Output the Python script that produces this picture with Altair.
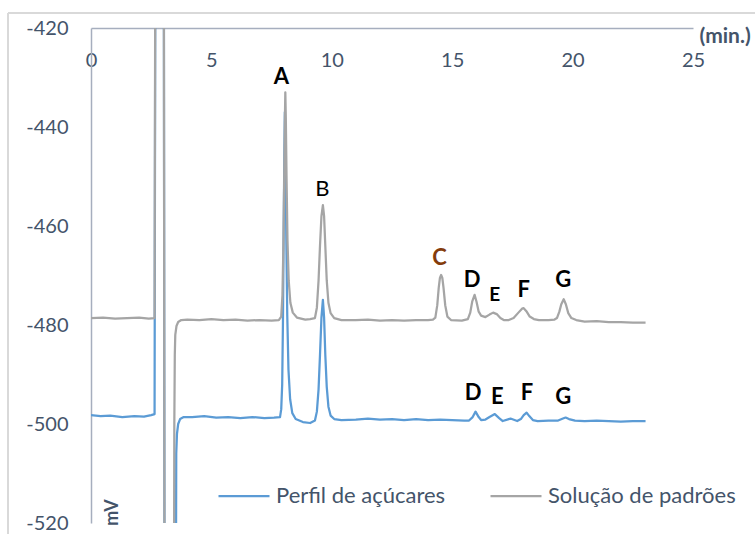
import altair as alt
import pandas as pd

# Retention time (min) and detector signal (mV) for the sugar profile
acucares_t = [0.0, 0.4, 0.8, 1.3, 1.8, 2.2, 2.5, 2.64,
              2.68, 3.02, 3.06, 3.51, 3.54, 3.57, 3.62, 3.70, 3.85,
              4.2, 4.7, 5.2, 5.7, 6.2, 6.7, 7.2, 7.6, 7.85,
              7.90, 7.94, 7.97, 8.00, 8.03, 8.05, 8.08, 8.11, 8.15, 8.20, 8.27, 8.36,
              8.5, 8.8, 9.1, 9.30,
              9.38, 9.45, 9.51, 9.57, 9.63, 9.68, 9.73, 9.79, 9.86, 9.95, 10.1, 10.4,
              11.0, 11.5, 12.0, 12.5, 13.0, 13.5, 14.0, 14.5, 15.0, 15.5,
              15.7, 15.85, 15.97, 16.1, 16.2, 16.38, 16.55, 16.77, 16.95, 17.1,
              17.42, 17.70, 17.85, 17.97, 18.09, 18.2, 18.35, 18.55,
              19.0, 19.4, 19.6, 19.71, 19.85, 20.1,
              20.5, 21.0, 21.5, 22.0, 22.5, 23.03]
acucares_mv = [-498.2, -498.4, -498.3, -498.6, -498.4, -498.5, -498.2, -498.0,
               -380.0, -380.0, -570.0, -570.0, -506.0, -502.0, -500.0, -499.0, -498.6,
               -498.6, -498.4, -498.7, -498.6, -498.8, -498.6, -498.8, -498.7, -498.6,
               -497.0, -492.0, -480.0, -462.0, -445.0, -437.0, -445.0, -462.0, -478.0, -489.0, -495.0, -497.8,
               -499.0, -499.6, -499.8, -499.3,
               -497.5, -493.0, -486.0, -478.5, -474.9, -478.5, -486.0, -492.5, -496.5, -498.3, -499.0, -499.2,
               -499.1, -498.9, -499.1, -499.0, -499.2, -499.0, -499.2, -499.1, -499.2, -499.3,
               -499.3, -498.6, -497.5, -498.6, -499.2, -499.1, -498.6, -498.0, -498.8, -499.4,
               -498.9, -499.4, -499.0, -498.2, -497.7, -498.4, -499.2, -499.4,
               -499.3, -499.3, -498.9, -498.7, -499.0, -499.3,
               -499.4, -499.3, -499.4, -499.5, -499.4, -499.4]

# Retention time (min) and detector signal (mV) for the standards solution
padroes_t = [0.0, 0.5, 1.0, 1.5, 2.0, 2.4, 2.64,
             2.68, 3.02, 3.06, 3.43, 3.46, 3.48, 3.50, 3.55, 3.62, 3.75, 4.0,
             4.5, 5.0, 5.5, 6.0, 6.5, 7.0, 7.5, 7.8,
             7.90, 7.95, 7.99, 8.02, 8.05, 8.07, 8.09, 8.12, 8.16, 8.21, 8.28, 8.38, 8.55,
             8.9, 9.1, 9.30,
             9.38, 9.45, 9.51, 9.57, 9.63, 9.68, 9.73, 9.79, 9.86, 9.95, 10.1, 10.4,
             11.0, 11.5, 12.0, 12.5, 13.0, 13.5, 14.0, 14.2,
             14.30, 14.38, 14.44, 14.49, 14.54, 14.59, 14.64, 14.71, 14.80, 14.95,
             15.4, 15.65, 15.75, 15.83, 15.93, 16.01, 16.10, 16.2, 16.38,
             16.55, 16.70, 16.85, 17.0, 17.14,
             17.35, 17.55, 17.75, 17.90, 17.97, 18.08, 18.22, 18.39, 18.6, 19.0, 19.25,
             19.35, 19.45, 19.53, 19.63, 19.72, 19.82, 19.95, 20.15,
             20.5, 21.0, 21.5, 22.0, 22.5, 23.03]
padroes_mv = [-478.6, -478.5, -478.7, -478.6, -478.5, -478.7, -478.6,
              -380.0, -380.0, -570.0, -570.0, -500.0, -486.0, -482.0, -480.2, -479.4, -479.0, -478.9,
              -479.0, -478.8, -479.0, -478.9, -479.1, -479.0, -479.1, -479.0,
              -478.3, -474.0, -464.0, -452.0, -439.0, -433.0, -438.0, -450.0, -463.0, -471.0, -475.5, -477.5, -478.5,
              -478.9, -478.8, -478.6,
              -476.5, -471.0, -464.0, -458.0, -455.8, -458.0, -464.0, -471.0, -475.5, -477.6, -478.6, -479.0,
              -479.0, -478.9, -479.1, -479.0, -479.1, -479.0, -479.0, -478.9,
              -478.5, -476.0, -472.5, -470.5, -469.9, -470.5, -472.5, -476.0, -478.3, -479.0,
              -479.1, -478.8, -477.5, -475.3, -473.9, -475.3, -477.3, -478.1, -478.4,
              -477.9, -477.5, -477.8, -478.6, -479.0,
              -479.0, -478.6, -477.5, -476.7, -476.6, -477.2, -478.3, -478.8, -479.0, -479.0, -478.9,
              -478.6, -477.3, -475.8, -474.8, -475.8, -477.6, -478.6, -479.0,
              -479.3, -479.2, -479.4, -479.4, -479.5, -479.5]

series_names = ["Perfil de açúcares", "Solução de padrões"]
series_colors = ["#5B9BD5", "#A5A5A5"]

# Peak annotations: letter, time, signal level, style
peak_letters = ["A", "B", "C", "D", "E", "F", "G", "D", "E", "F", "G"]
peak_t = [7.91, 9.61, 14.47, 15.83, 16.77, 17.97, 19.61, 15.87, 16.87, 18.11, 19.61]
peak_mv = [-429.9, -452.5, -466.5, -470.9, -473.9, -472.9, -470.9, -493.8, -494.5, -493.8, -494.5]
peak_style = ["bold", "regular", "brown", "bold", "small", "bold", "bold", "bold", "bold", "bold", "bold"]

x_ticks = [0, 5, 10, 15, 20, 25]
y_ticks = [-520, -500, -480, -460, -440, -420]

W, H = 602, 495
TEXT = "#44546A"
AXIS_LINE = "#A6AEBE"
FONT = "Lato"

lines = pd.concat([
    pd.DataFrame({"t": acucares_t, "mv": acucares_mv, "serie": series_names[0]}),
    pd.DataFrame({"t": padroes_t, "mv": padroes_mv, "serie": series_names[1]}),
])
peaks = pd.DataFrame({"letra": peak_letters, "t": peak_t, "mv": peak_mv, "estilo": peak_style})

x_enc = alt.X(
    "t:Q",
    scale=alt.Scale(domain=[0, 25], nice=False, zero=False),
    axis=alt.Axis(
        orient="bottom", offset=-H, values=x_ticks, ticks=False, grid=False,
        labelPadding=22, labelFlush=False, labelOverlap=False,
        labelFont=FONT, labelFontSize=20, labelColor=TEXT,
        domainColor=AXIS_LINE, domainWidth=1.5,
        title="(min.)", titleX=608, titleY=8, titleAlign="left", titleBaseline="middle",
        titleFont=FONT, titleFontSize=21, titleFontWeight="bold", titleColor=TEXT,
    ),
)
y_enc = alt.Y(
    "mv:Q",
    scale=alt.Scale(domain=[-520, -420], nice=False, zero=False),
    axis=alt.Axis(
        values=y_ticks, ticks=False, grid=False,
        labelPadding=23, labelFlush=False, labelOverlap=False,
        labelExpr="replace(datum.label, '\u2212', '-')",
        labelFont=FONT, labelFontSize=20, labelColor=TEXT,
        domainColor=AXIS_LINE, domainWidth=1.5,
        title="mV", titleAngle=270, titleX=21, titleY=484,
        titleAlign="center", titleBaseline="middle",
        titleFont=FONT, titleFontSize=18, titleFontWeight="bold", titleColor=TEXT,
    ),
)
color_enc = alt.Color(
    "serie:N",
    scale=alt.Scale(domain=series_names, range=series_colors),
    legend=alt.Legend(
        orient="none", legendX=126, legendY=441, direction="horizontal", columns=2,
        title=None, symbolType="stroke", symbolSize=2601, symbolStrokeWidth=2.25,
        labelFont=FONT, labelFontSize=22, labelColor=TEXT, labelOffset=5,
        columnPadding=40, labelLimit=400,
    ),
)

base = alt.Chart(lines)
# sugar profile first, standards drawn on top of it
blue_line = base.transform_filter(alt.datum.serie == series_names[0]).mark_line(
    strokeWidth=2.25, clip=True, strokeJoin="round"
).encode(x=x_enc, y=y_enc, color=color_enc)
gray_line = base.transform_filter(alt.datum.serie == series_names[1]).mark_line(
    strokeWidth=2.25, clip=True, strokeJoin="round"
).encode(x="t:Q", y="mv:Q", color=color_enc)

lbl = alt.Chart(peaks)
def labels(style, **kw):
    return lbl.transform_filter(alt.datum.estilo == style).mark_text(
        font=FONT, align="center", baseline="middle", **kw
    ).encode(x="t:Q", y="mv:Q", text="letra:N")

lbl_bold = labels("bold", fontSize=22, fontWeight="bold", color="#000000")
lbl_small = labels("small", fontSize=19, fontWeight="bold", color="#000000")
lbl_reg = labels("regular", fontSize=22, fontWeight="normal", color="#000000")
lbl_brown = labels("brown", fontSize=22, fontWeight="bold", color="#843C0C")

# light frame around the chart area
frame_top = alt.Chart(lines).mark_rule(color="#D9D9D9", strokeWidth=1.5).encode(
    x=alt.value(-83), x2=alt.value(W + 62), y=alt.value(-15)
)
frame_left = alt.Chart(lines).mark_rule(color="#D9D9D9", strokeWidth=1.5).encode(
    x=alt.value(-83), y=alt.value(-15), y2=alt.value(H + 11)
)

chart = alt.layer(
    frame_top, frame_left, blue_line, gray_line, lbl_bold, lbl_small, lbl_reg, lbl_brown
).properties(
    width=W, height=H,
    autosize=alt.AutoSizeParams(type="none"),
    padding={"left": 91, "top": 28, "right": 62, "bottom": 11},
    background="white",
).configure_view(stroke=None)

chart.save("out.html", embed_options={"renderer": "svg", "actions": False})
